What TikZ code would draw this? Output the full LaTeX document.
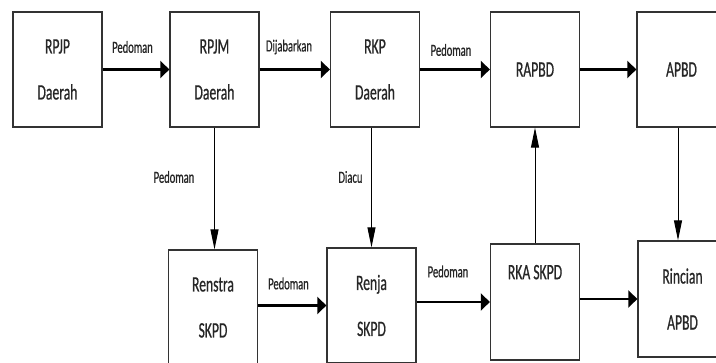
\documentclass[tikz,border=0pt]{standalone}
\usepackage{fontspec}
\setmainfont{Carlito}[FakeStretch=0.62, FakeBold=0.6]
\usepackage{tikz}
\usetikzlibrary{positioning,arrows.meta}

\begin{document}
\begin{tikzpicture}[x=1pt, y=1pt, every node/.style={text=black!85},
	blk/.style={draw=black!80, line width=1.3pt, minimum width=89pt, minimum height=115pt, inner sep=0pt, align=center, font=\fontsize{22}{46}\selectfont},
	lbl/.style={font=\fontsize{17}{18}\selectfont, inner sep=0pt},
	harr/.style={line width=2.5pt, -{Triangle[length=9pt, width=17pt]}},
	varr/.style={line width=1pt, -{Triangle[length=20pt, width=8pt]}}]
	\useasboundingbox (0,0) rectangle (716,363);
	\clip (0,0) rectangle (716,363);
	% top row
	\node[blk] (RPJP) at (57.5,293.5) {RPJP\\Daerah};
	\node[blk] (RPJM) at (214.5,293.5) {RPJM\\Daerah};
	\node[blk] (RKP) at (375,293.5) {RKP\\Daerah};
	\node[blk] (RAPBD) at (535,293.5) {RAPBD};
	\node[blk] (APBD) at (681.5,293.5) {APBD};
	% bottom row
	\node[blk] (Renstra) at (213,55.5) {Renstra\\SKPD};
	\node[blk] (Renja) at (371.5,57.5) {Renja\\SKPD};
	\node[blk, minimum height=116pt] (RKA) at (535,61) {RKA SKPD\\\strut};
	\node[blk, minimum height=116pt] (Rincian) at (682.5,64) {Rincian\\APBD};
	\foreach \a/\b in {RPJP/RPJM, RPJM/RKP, RKP/RAPBD, RAPBD/APBD, Renstra/Renja, Renja/RKA, RKA/Rincian} {\draw[harr] (\a.east |- \b.west) -- (\b.west);}
	\draw[varr] (RPJM.south) -- (RPJM.south |- Renstra.north);
	\draw[varr] (Renja.north |- RKP.south) -- (Renja.north);
	\draw[varr] (RKA.north) -- (RKA.north |- RAPBD.south);
	\draw[varr] ([xshift=-3.5pt]APBD.south) -- ([xshift=-3.5pt]APBD.south |- Rincian.north);
	% labels
	\node[lbl] (l1) at (132.5,316) {Pedoman};
	\node[lbl] (l2) at (289,316) {Dijabarkan};
	\node[lbl] (l3) at (451,313) {Pedoman};
	\node[lbl] (l4) at (174,186) {Pedoman};
	\node[lbl] (l5) at (350.5,186) {Diacu};
	\node[lbl] (l6) at (288.5,79.5) {Pedoman};
	\node[lbl] (l7) at (448,91.5) {Pedoman};
\end{tikzpicture}
\end{document}
